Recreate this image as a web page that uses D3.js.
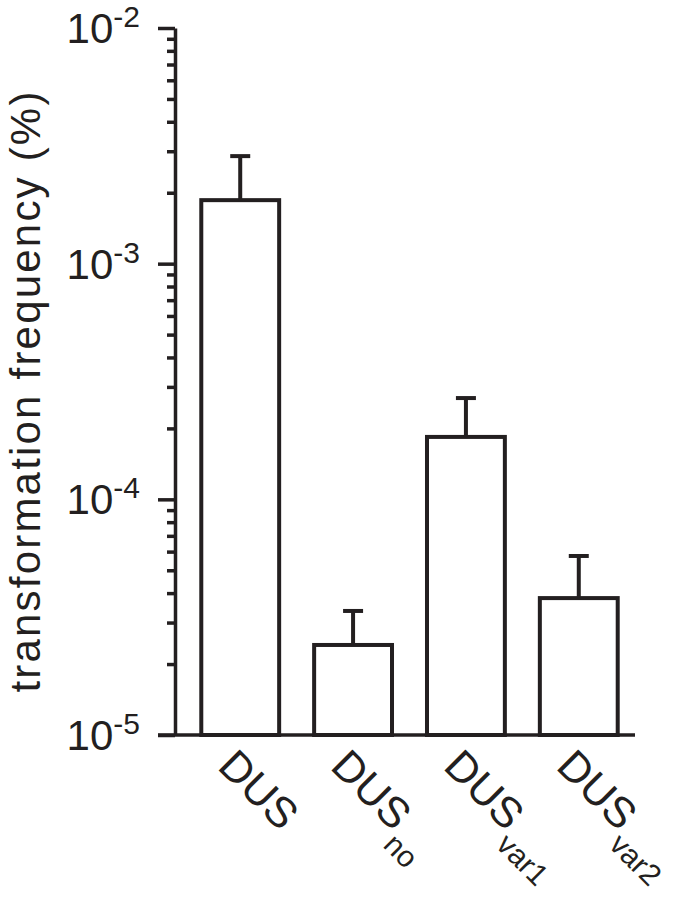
<!DOCTYPE html>
<html>
<head>
<meta charset="utf-8">
<script src="https://cdn.jsdelivr.net/npm/d3@7"></script>
<style>
  body { margin: 0; background: #fff; }
  text { font-family: "Liberation Sans", Arial, sans-serif; fill: #231f20; }
</style>
</head>
<body>
<div id="chart"></div>
<script>
// data
const categories = ["DUS", "DUS_no", "DUS_var1", "DUS_var2"];
const labelMain = ["DUS", "DUS", "DUS", "DUS"];
const labelSub = ["", "no", "var1", "var2"];
const means = [1.86e-3, 2.41e-5, 1.84e-4, 3.81e-5];
const errTops = [2.86e-3, 3.36e-5, 2.69e-4, 5.75e-5];
const majorTicks = [1e-5, 1e-4, 1e-3, 1e-2];
const tickExp = ["-5", "-4", "-3", "-2"];

const svgWidth = 680;
const svgHeight = 897;
const margin = { top: 28, right: 45, bottom: 162, left: 175 };
const height = svgHeight - margin.top - margin.bottom;
const ink = "#231f20";

const svg = d3
  .select("#chart")
  .append("svg")
  .attr("width", svgWidth)
  .attr("height", svgHeight);

const chart = svg
  .append("g")
  .attr("transform", `translate(${margin.left},${margin.top})`);

const yScale = d3.scaleLog().domain([1e-5, 1e-2]).range([height, 0]);

const xScale = d3
  .scaleBand()
  .domain(categories)
  .range([15, 454])
  .paddingInner(0.31)
  .paddingOuter(0.1);

// minor ticks
const minorTicks = yScale.ticks().filter((t) => !majorTicks.includes(t));
chart
  .append("g")
  .call(d3.axisLeft(yScale).tickValues(minorTicks).tickSize(8).tickFormat(""))
  .call((g) => g.select(".domain").remove())
  .call((g) => g.selectAll("line").attr("stroke", ink).attr("stroke-width", 3.5));

// major ticks + axis line
chart
  .append("g")
  .call(d3.axisLeft(yScale).tickValues(majorTicks).tickSize(17).tickSizeOuter(0).tickFormat(""))
  .call((g) => g.select(".domain").attr("stroke", ink).attr("stroke-width", 3.5))
  .call((g) => g.selectAll("line").attr("stroke", ink).attr("stroke-width", 3.5));

// tick labels with superscript
majorTicks.forEach((t, i) => {
  const lab = chart
    .append("text")
    .attr("x", -35)
    .attr("y", yScale(t) + 15)
    .attr("text-anchor", "end")
    .style("font-size", "42px");
  lab.append("tspan").text("10");
  lab
    .append("tspan")
    .attr("dy", -16)
    .style("font-size", "30px")
    .text(tickExp[i]);
});

// x axis line
chart
  .append("line")
  .attr("x1", -17)
  .attr("x2", 460)
  .attr("y1", height)
  .attr("y2", height)
  .attr("stroke", ink)
  .attr("stroke-width", 3.5);

// bars
chart
  .selectAll(".bar")
  .data(categories)
  .enter()
  .append("rect")
  .attr("class", "bar")
  .attr("x", (d) => xScale(d))
  .attr("y", (d, i) => yScale(means[i]))
  .attr("width", xScale.bandwidth())
  .attr("height", (d, i) => height - yScale(means[i]))
  .attr("fill", "#fff")
  .attr("stroke", ink)
  .attr("stroke-width", 4);

// error bars
chart
  .selectAll(".err")
  .data(categories)
  .enter()
  .append("line")
  .attr("x1", (d) => xScale(d) + xScale.bandwidth() / 2)
  .attr("x2", (d) => xScale(d) + xScale.bandwidth() / 2)
  .attr("y1", (d, i) => yScale(means[i]))
  .attr("y2", (d, i) => yScale(errTops[i]))
  .attr("stroke", ink)
  .attr("stroke-width", 4);

chart
  .selectAll(".cap")
  .data(categories)
  .enter()
  .append("line")
  .attr("x1", (d) => xScale(d) + xScale.bandwidth() / 2 - 10)
  .attr("x2", (d) => xScale(d) + xScale.bandwidth() / 2 + 10)
  .attr("y1", (d, i) => yScale(errTops[i]))
  .attr("y2", (d, i) => yScale(errTops[i]))
  .attr("stroke", ink)
  .attr("stroke-width", 4);

// rotated category labels
categories.forEach((d, i) => {
  const cx = xScale(d) + xScale.bandwidth() / 2;
  const lab = chart
    .append("text")
    .attr("transform", `translate(${cx - 24},${height + 33}) rotate(45)`)
    .style("font-size", "43px");
  lab.append("tspan").text(labelMain[i]);
  if (labelSub[i]) {
    lab.append("tspan").attr("dx", 2).attr("dy", 18).style("font-size", "30px").text(labelSub[i]);
  }
});

// y label
svg
  .append("text")
  .attr("transform", "translate(40,391) rotate(-90)")
  .attr("text-anchor", "middle")
  .style("font-size", "42px")
  .style("letter-spacing", "2.2px")
  .text("transformation frequency (%)");
</script>
</body>
</html>
